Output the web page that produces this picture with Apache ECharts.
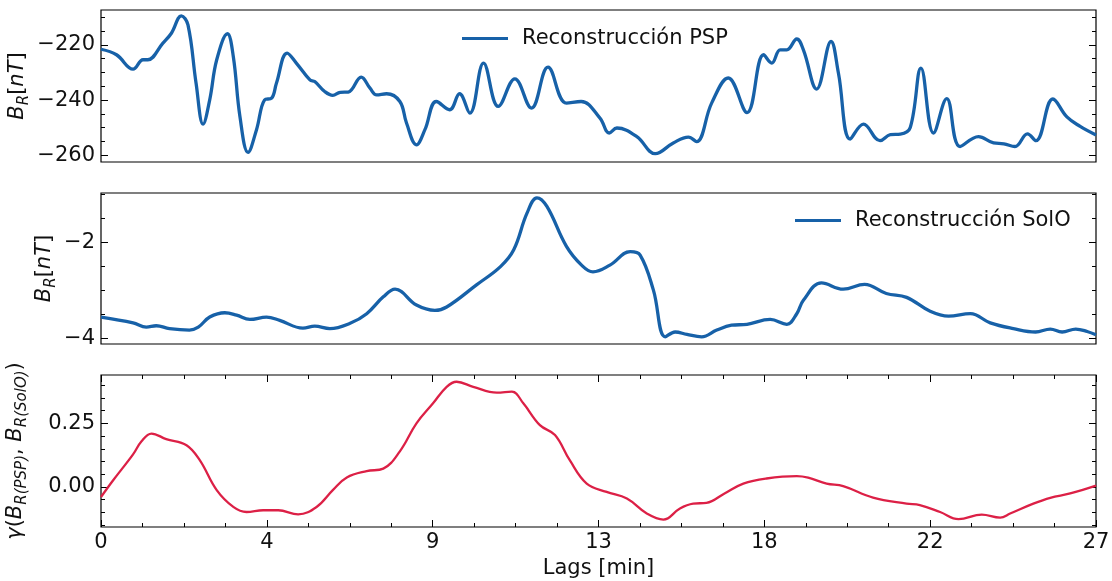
<!DOCTYPE html>
<html><head><meta charset="utf-8">
<script src="https://cdn.jsdelivr.net/npm/echarts@6/dist/echarts.min.js"></script>
<style>html,body{margin:0;padding:0;background:#fff}#c{width:1112px;height:581px}</style>
</head><body><div id="c"></div>
<script>
// ---------- data ----------
const lagsPSP = [0,0.42,0.87,1.14,1.27,1.68,1.91,2.18,2.36,2.58,2.77,2.95,3.14,3.43,3.59,3.77,3.99,4.22,4.44,4.63,4.76,5.05,5.30,5.67,5.80,6.07,6.29,6.49,6.71,7.06,7.30,7.48,7.75,8.11,8.29,8.56,8.79,9.10,9.46,9.73,10.01,10.38,10.78,11.23,11.68,12.13,12.63,13.03,13.54,13.79,14.0,14.54,15.04,15.53,15.94,16.16,16.57,17.02,17.53,17.98,18.2,18.43,18.61,18.88,19.06,19.42,19.81,20.01,20.33,20.69,21.14,21.42,21.69,21.96,22.25,22.59,22.95,23.31,23.81,24.22,24.5,24.8,25.14,25.37,25.83,26.21,26.57,27];
const brPSP = [-221.6,-223.6,-228.8,-225.4,-225.4,-219.4,-215.8,-209.5,-212.8,-233.9,-248.7,-239.9,-225.4,-216.0,-224.2,-245.9,-258.9,-250.7,-239.9,-239.3,-233.9,-223.0,-226.6,-232.7,-233.3,-236.9,-238.3,-237.2,-237.1,-231.7,-235.7,-238.1,-237.7,-240.5,-248.3,-256.2,-250.7,-240.5,-243.5,-237.7,-244.7,-226.6,-242.3,-232.3,-242.9,-228.1,-241.1,-240.5,-246.5,-251.9,-250.1,-253.2,-259.4,-255.5,-253.4,-255.0,-241.1,-232.0,-244.5,-223.6,-226.6,-221.8,-221.8,-217.9,-221.8,-236.0,-218.8,-230.2,-254.1,-248.7,-254.7,-252.5,-252.3,-249.9,-228.4,-251.9,-239.5,-256.8,-253.2,-255.5,-255.8,-256.8,-252.2,-254.7,-239.6,-246.1,-249.5,-252.6];

const lagsSolO = [0,0.87,1.23,1.50,1.86,2.40,2.64,2.95,3.36,3.68,4.04,4.49,4.85,5.48,5.80,6.21,6.76,7.21,7.66,7.98,8.56,9.06,9.38,10.19,10.84,11.20,11.56,11.83,12.10,12.63,13.04,13.35,13.81,14.36,14.63,14.99,15.31,15.58,15.90,16.30,16.71,17.11,17.53,18.16,18.61,18.88,19.06,19.55,20.14,20.72,21.31,21.86,22.5,23.0,23.59,24.13,24.76,25.36,25.76,26.08,26.45,26.76,27];
const brSolO = [-3.55,-3.67,-3.76,-3.73,-3.79,-3.82,-3.76,-3.55,-3.46,-3.51,-3.60,-3.55,-3.62,-3.78,-3.74,-3.79,-3.68,-3.48,-3.13,-2.97,-3.30,-3.41,-3.34,-2.88,-2.50,-2.15,-1.39,-1.07,-1.25,-2.08,-2.47,-2.61,-2.47,-2.19,-2.26,-2.99,-3.96,-3.86,-3.91,-3.96,-3.82,-3.72,-3.70,-3.60,-3.70,-3.48,-3.20,-2.84,-2.97,-2.87,-3.06,-3.14,-3.43,-3.53,-3.48,-3.67,-3.79,-3.86,-3.80,-3.86,-3.80,-3.85,-3.92];

const lagsCorr = [0,0.33,0.87,1.10,1.37,1.77,2.32,2.68,3.14,3.59,3.95,4.40,4.81,5.35,5.85,6.29,6.67,7.21,7.66,8.11,8.56,9.01,9.38,9.65,10.10,10.74,11.15,11.46,11.91,12.32,12.72,13.18,13.72,14.27,14.81,15.26,15.71,16.07,16.43,16.92,17.43,18.06,18.88,19.19,19.69,20.14,20.95,21.86,22.22,22.77,23.27,23.9,24.4,24.67,25.3,25.76,26.3,27];
const corr = [-0.040,0.026,0.128,0.180,0.210,0.188,0.164,0.105,-0.013,-0.079,-0.099,-0.092,-0.092,-0.108,-0.079,-0.013,0.037,0.062,0.072,0.140,0.250,0.329,0.394,0.414,0.394,0.371,0.375,0.329,0.243,0.204,0.105,0.013,-0.020,-0.046,-0.105,-0.129,-0.085,-0.066,-0.063,-0.026,0.013,0.033,0.042,0.036,0.013,0.003,-0.042,-0.066,-0.072,-0.099,-0.127,-0.109,-0.121,-0.105,-0.066,-0.043,-0.026,0.005];

const pspMajor = [-260,-240,-220];
const pspMinor = [-260,-255,-250,-245,-240,-235,-230,-225,-220,-215,-210];
const soloMajor = [-4,-2];
const soloMinor = [-4,-3.5,-3,-2.5,-2,-1.5,-1];
const corrMajor = [0,0.25];
const corrMinor = [-0.15,-0.1,-0.05,0,0.05,0.1,0.15,0.2,0.25,0.3,0.35,0.4];

const legendPSP = 'Reconstrucción PSP';
const legendSolO = 'Reconstrucción SolO';
const xName = 'Lags [min]';

// ---------- styles ----------
const FONT = 'DejaVu Sans';
const BLUE = '#1761a8';
const RED = '#dc2046';
const INK = '#111';

const zip = (xs, ys) => xs.map((x, i) => [x, ys[i]]);
const minusFmt = v => (v < 0 ? '\u2212' : '') + Math.abs(v);

const rich = {
  i: {fontFamily: FONT, fontStyle: 'italic', fontSize: 21, lineHeight: 28, color: INK},
  n: {fontFamily: FONT, fontSize: 21, lineHeight: 28, color: INK},
  s: {fontFamily: FONT, fontStyle: 'italic', fontSize: 15, lineHeight: 15, verticalAlign: 'bottom', color: INK}
};

const hiddenLine = {show: true, onZero: false, lineStyle: {color: 'rgba(0,0,0,0)', width: 1}};

function yAxes(gi, min, max, major, minor, fmt, name, gap) {
  const base = {type: 'value', gridIndex: gi, min, max, splitLine: {show: false}, axisLine: hiddenLine};
  return [
    Object.assign({}, base, {
      position: 'left',
      axisTick: {show: true, inside: true, length: 7, customValues: major, lineStyle: {color: '#000', width: 1}},
      axisLabel: {show: true, customValues: major, formatter: fmt, margin: 6, fontSize: 21, fontFamily: FONT, color: INK},
      name, nameLocation: 'middle', nameRotate: 90, nameGap: gap, nameMoveOverlap: false,
      nameTextStyle: {rich, fontFamily: FONT, fontSize: 21, color: INK}
    }),
    Object.assign({}, base, {
      position: 'left',
      axisTick: {show: true, inside: true, length: 4, customValues: minor, lineStyle: {color: '#000', width: 1}},
      axisLabel: {show: false}
    }),
    Object.assign({}, base, {
      position: 'right',
      axisTick: {show: true, inside: true, length: 7, customValues: major, lineStyle: {color: '#000', width: 1}},
      axisLabel: {show: false}
    }),
    Object.assign({}, base, {
      position: 'right',
      axisTick: {show: true, inside: true, length: 4, customValues: minor, lineStyle: {color: '#000', width: 1}},
      axisLabel: {show: false}
    })
  ];
}

const gridBase = {left: 101, width: 995, show: true, borderColor: '#000', borderWidth: 1.2, backgroundColor: 'transparent', containLabel: false, outerBoundsMode: 'none'};

const hiddenX = gi => ({type: 'value', gridIndex: gi, min: 0, max: 27, interval: 4.5, show: false, axisLine: {onZero: false}});
const tickX = (pos, labels) => ({
  type: 'value', gridIndex: 2, position: pos, min: 0, max: 27, interval: 4.5,
  axisLine: hiddenLine, splitLine: {show: false},
  axisTick: {show: true, inside: true, length: 7, lineStyle: {color: '#000', width: 1}},
  minorTick: {show: true, splitNumber: 4, length: 4, lineStyle: {color: '#000', width: 1}},
  axisLabel: labels ? {show: true, margin: 5, fontSize: 21, fontFamily: FONT, color: INK,
    formatter: v => String(Math.floor(v + 1e-9))} : {show: false},
  name: labels ? xName : '', nameLocation: 'middle', nameGap: 31, nameMoveOverlap: false,
  nameTextStyle: {fontFamily: FONT, fontSize: 21, color: INK}
});

const legendText = {fontSize: 21, fontFamily: FONT, color: INK, lineHeight: 22, padding: [0, 0, 0, 9]};

const option = {
  animation: false,
  backgroundColor: '#fff',
  textStyle: {fontFamily: FONT},
  grid: [
    Object.assign({}, gridBase, {top: 10, height: 152}),
    Object.assign({}, gridBase, {top: 193, height: 151}),
    Object.assign({}, gridBase, {top: 375, height: 152})
  ],
  legend: [
    {data: [legendPSP], left: 462, top: 27.5, padding: 0, icon: 'rect', itemWidth: 46, itemHeight: 3, textStyle: legendText},
    {data: [legendSolO], left: 795, top: 209.5, padding: 0, icon: 'rect', itemWidth: 46, itemHeight: 3, textStyle: legendText}
  ],
  xAxis: [hiddenX(0), hiddenX(1), tickX('bottom', true), tickX('top', false)],
  yAxis: [].concat(
    yAxes(0, -262.4, -207.4, pspMajor, pspMinor, minusFmt, '{i|B}{s|R}{n|[}{i|nT}{n|]}', 69),
    yAxes(1, -4.11, -0.97, soloMajor, soloMinor, minusFmt, '{i|B}{s|R}{n|[}{i|nT}{n|]}', 42),
    yAxes(2, -0.158, 0.4405, corrMajor, corrMinor, v => v.toFixed(2), '{i|\u03b3}{n|(}{i|B}{s|R(PSP)}{n|, }{i|B}{s|R(SolO)}{n|)}', 71)
  ),
  series: [
    {name: legendPSP, type: 'line', xAxisIndex: 0, yAxisIndex: 0, data: zip(lagsPSP, brPSP),
      smooth: 0.4, symbol: 'none', lineStyle: {color: BLUE, width: 3.3}, itemStyle: {color: BLUE}},
    {name: legendSolO, type: 'line', xAxisIndex: 1, yAxisIndex: 4, data: zip(lagsSolO, brSolO),
      smooth: 0.4, symbol: 'none', lineStyle: {color: BLUE, width: 3.3}, itemStyle: {color: BLUE}},
    {name: 'corr', type: 'line', xAxisIndex: 2, yAxisIndex: 8, data: zip(lagsCorr, corr),
      smooth: 0.4, symbol: 'none', lineStyle: {color: RED, width: 2.3}, itemStyle: {color: RED}}
  ]
};

const chart = echarts.init(document.getElementById('c'), null, {renderer: 'canvas'});
chart.setOption(option);
</script>
</body></html>
